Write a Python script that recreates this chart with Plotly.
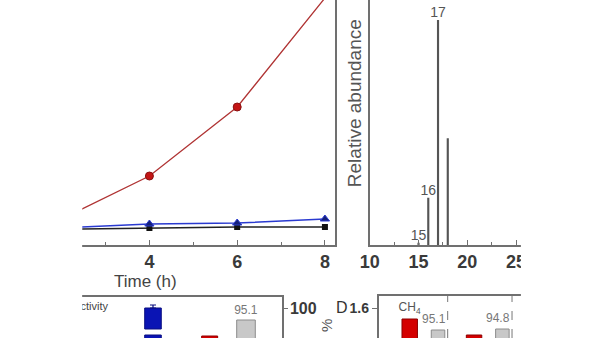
import plotly.graph_objects as go

W, H = 600, 338

def fx(p):
    return p / W

def fy(p):
    return 1 - p / H

# ---------------- data ----------------
# Panel A: time course
time_h = [2, 4, 6, 8]
red_series = [2.6, 6.9, 13.8, 24.7]
blue_series = [1.71, 2.1, 2.2, 2.6]
black_series = [1.57, 1.7, 1.8, 1.8]
time_ticks = [4, 6, 8]
time_minor = [3, 5, 7]

# Panel B: mass spectrum
mz = [15, 16, 17, 18]
abundance = [1, 21, 100, 47.5]
mz_labels = ["15", "16", "17", " "]
mz_ticks = [10, 15, 20, 25]
mz_minor = [12.5, 17.5, 22.5]

# Panel C: bars (partially visible)
c_gray_x = [1.0, 2.0]
c_gray_top = [-1.9, 0.8]
c_gray_labels = ["93.1", "95.1"]
c_blue_x = [1.36]
c_blue_lower_top = [-0.7]
c_blue_upper_base = [-0.1]
c_blue_upper_top = [2.0]
c_blue_err = [0.3]
c_red_x = [1.75]
c_red_top = [-0.8]
c_pct_ticks = [100]
c_legend_text = ["Selectivity"]
c_legend_x = [1.05]
c_legend_y = [2.1]

# Panel D: bars
d_groups = [1, 2]
d_red = [1.49, 1.33]
d_red_labels = ["CH<sub>4</sub>", " "]
d_gray = [1.38, 1.39]
d_gray_labels = ["95.1", "94.8"]
d_ticks = [1.6]

# ---------------- styles ----------------
FONT = "Liberation Sans"
AX = "#707070"
TXT = "#3a3a3a"
BASE_LOW = -5

fig = go.Figure()

# Panel A traces
fig.add_trace(go.Scatter(x=time_h, y=red_series, mode="lines+markers",
                         line=dict(color="#b03434", width=1.3),
                         marker=dict(symbol="circle", size=8, color="#c41515",
                                     line=dict(color="#8a1010", width=1)),
                         xaxis="x", yaxis="y", cliponaxis=False))
fig.add_trace(go.Scatter(x=time_h, y=black_series, mode="lines+markers",
                         line=dict(color="#222222", width=1.5),
                         marker=dict(symbol="square", size=6, color="#111111"),
                         xaxis="x", yaxis="y"))
fig.add_trace(go.Scatter(x=time_h, y=blue_series, mode="lines+markers",
                         line=dict(color="#2a3ad0", width=1.5),
                         marker=dict(symbol="triangle-up", size=8, color="#15207a",
                                     line=dict(color="#2a3ad0", width=1)),
                         xaxis="x", yaxis="y"))

# Panel B traces
fig.add_trace(go.Bar(x=mz, y=abundance, width=0.22, marker=dict(color="#555555", line=dict(width=0)),
                     text=mz_labels, textposition="outside", constraintext="none",
                     outsidetextfont=dict(family=FONT, size=14, color="#555555"),
                     cliponaxis=False, xaxis="x2", yaxis="y2"))

# Panel C traces
fig.add_trace(go.Bar(x=c_gray_x, y=[t - BASE_LOW for t in c_gray_top], base=BASE_LOW, width=0.128,
                     marker=dict(color="#c8c8c8", line=dict(color="#8c8c8c", width=1)),
                     text=c_gray_labels, textposition="outside", constraintext="none",
                     outsidetextfont=dict(family=FONT, size=12, color="#777777"),
                     xaxis="x3", yaxis="y3"))
fig.add_trace(go.Bar(x=c_blue_x, y=[t - BASE_LOW for t in c_blue_lower_top], base=BASE_LOW, width=0.114,
                     marker=dict(color="#0a14b4", line=dict(color="#0a0f80", width=1)),
                     xaxis="x3", yaxis="y3"))
fig.add_trace(go.Bar(x=c_blue_x, y=[t - b for t, b in zip(c_blue_upper_top, c_blue_upper_base)],
                     base=c_blue_upper_base, width=0.114,
                     marker=dict(color="#0a14b4", line=dict(color="#0a0f80", width=1)),
                     error_y=dict(type="data", array=c_blue_err, arrayminus=[0], color="#0a0f80",
                                  thickness=1.2, width=3),
                     xaxis="x3", yaxis="y3"))
fig.add_trace(go.Bar(x=c_red_x, y=[t - BASE_LOW for t in c_red_top], base=BASE_LOW, width=0.11,
                     marker=dict(color="#d40000", line=dict(color="#900000", width=1)),
                     xaxis="x3", yaxis="y3"))
fig.add_trace(go.Scatter(x=c_legend_x, y=c_legend_y, mode="text", text=c_legend_text,
                         textposition="middle left",
                         textfont=dict(family=FONT, size=11, color="#444444"),
                         cliponaxis=False, xaxis="x3", yaxis="y3"))
fig.add_trace(go.Scatter(x=[None], y=[None], mode="markers", showlegend=False,
                         xaxis="x3", yaxis="y4"))

# Panel D traces
fig.add_trace(go.Bar(x=[g - 0.22 for g in d_groups], y=d_red, width=0.24,
                     marker=dict(color="#d40000", line=dict(color="#8a0000", width=1)),
                     text=d_red_labels, textposition="outside", constraintext="none",
                     outsidetextfont=dict(family=FONT, size=12, color="#555555"),
                     cliponaxis=False, xaxis="x4", yaxis="y5"))
fig.add_trace(go.Bar(x=[g + 0.22 for g in d_groups], y=d_gray, width=0.21,
                     marker=dict(color="#c8c8c8", line=dict(color="#8c8c8c", width=1)),
                     xaxis="x4", yaxis="y5"))

common = dict(showgrid=False, zeroline=False, linecolor=AX, linewidth=1.5)
bold_tick = lambda s: dict(family=FONT, size=s, color=TXT, weight="bold")

shapes = []
for g in d_groups:
    shapes.append(dict(type="line", xref="x4", yref="y5 domain", x0=g + 0.37, x1=g + 0.37,
                       y0=0, y1=1, line=dict(color="#777777", width=1, dash="dash")))
# crop margins of the original picture (white)
shapes.append(dict(type="rect", xref="paper", yref="paper", x0=0, x1=fx(74), y0=0, y1=1,
                   fillcolor="white", line=dict(width=0), layer="above"))
shapes.append(dict(type="rect", xref="paper", yref="paper", x0=fx(524), x1=1, y0=0, y1=1,
                   fillcolor="white", line=dict(width=0), layer="above"))

def ann(text, x, y, size, color, angle=0, xanchor="center"):
    return dict(text=text, x=fx(x), y=fy(y), xref="paper", yref="paper", showarrow=False,
                xanchor=xanchor, yanchor="middle", textangle=angle,
                font=dict(family=FONT, size=size, color=color))

annotations = [
    ann("Time (h)", 139, 281, 17, "#444444"),
    ann("Relative abundance", 353, 103, 19, "#555555", angle=-90),
    ann("%", 324, 325, 15, "#555555", angle=-90),
    ann("D", 340, 307, 16, "#333333"),
]
# value labels above the grey bars of panel D (slightly left of the bar centre)
for g, v, lab in zip(d_groups, d_gray, d_gray_labels):
    annotations.append(dict(text=lab, x=g + 0.22, y=v, xref="x4", yref="y5", showarrow=False,
                            xanchor="center", yanchor="bottom", xshift=-4, yshift=2,
                            font=dict(family=FONT, size=12, color="#777777")))

fig.update_layout(
    width=W, height=H, margin=dict(l=0, r=0, t=0, b=0),
    paper_bgcolor="white", plot_bgcolor="rgba(0,0,0,0)",
    showlegend=False, barmode="overlay",
    xaxis=dict(domain=[fx(74), fx(333)], range=[2.467, 8.222], anchor="y", showline=True,
               ticks="inside", ticklen=5, tickcolor=AX, tickvals=time_ticks,
               minor=dict(tickvals=time_minor, ticks="inside", ticklen=3, tickcolor=AX),
               tickfont=bold_tick(18), **common),
    yaxis=dict(domain=[fy(245), 1], range=[0, 24.5], anchor="x", side="right", showline=True,
               showticklabels=False, ticks="", **common),
    xaxis2=dict(domain=[fx(369), fx(524)], range=[10, 25.5], anchor="y2", showline=True,
                ticks="inside", ticklen=5, tickcolor=AX, tickvals=mz_ticks,
                minor=dict(tickvals=mz_minor, ticks="inside", ticklen=3, tickcolor=AX),
                tickfont=bold_tick(18), **common),
    yaxis2=dict(domain=[fy(245), 1], range=[0, 108.9], anchor="x2", showline=True,
                showticklabels=False, ticks="", **common),
    xaxis3=dict(domain=[fx(74), fx(279)], range=[0.8725, 2.248], anchor="y3", side="top",
                showline=True, showticklabels=False, ticks="", **common),
    yaxis3=dict(domain=[0, fy(297)], range=[-1, 3.1], anchor="x3", visible=False),
    yaxis4=dict(range=[87.75, 104.49], anchor="x3", overlaying="y3", side="right",
                showline=True, ticks="outside", ticklen=4, tickcolor=AX, tickvals=c_pct_ticks,
                ticklabelstandoff=-1, tickfont=bold_tick(16), **common),
    xaxis4=dict(domain=[fx(378), fx(524)], range=[0.2955, 2.508], anchor="y5", side="top",
                showline=True, showticklabels=False, ticks="", **common),
    yaxis5=dict(domain=[0, fy(296)], range=[1.3, 1.72], anchor="x4", showline=True,
                ticks="outside", ticklen=5, tickcolor=AX, tickvals=d_ticks,
                tickfont=bold_tick(14), **common),
    shapes=shapes,
    annotations=annotations,
)

fig.write_html("out.html", config={"displayModeBar": False})
